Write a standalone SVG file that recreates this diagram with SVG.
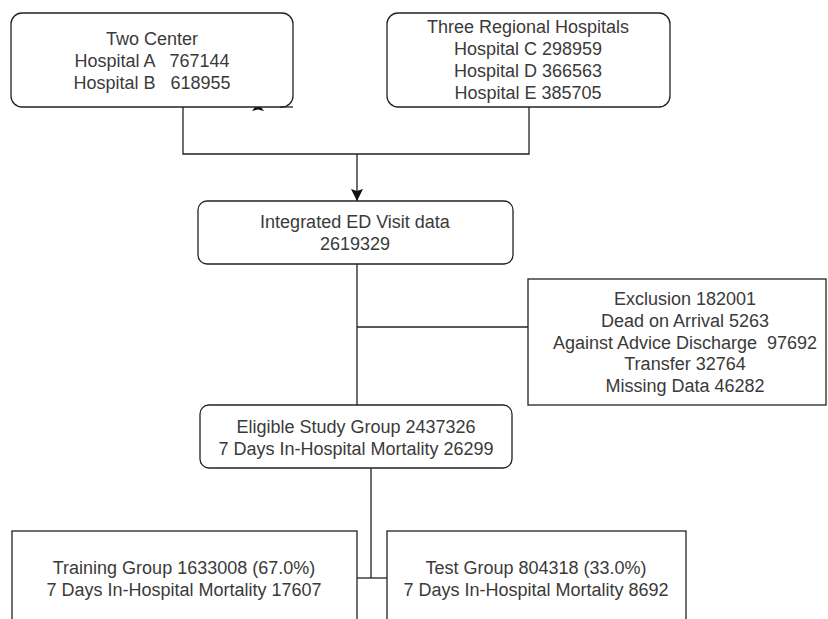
<svg xmlns="http://www.w3.org/2000/svg" width="828" height="619" viewBox="0 0 828 619">
<style>
.box{fill:#fff;stroke:#222;stroke-width:1.3}
.t{font-family:"Liberation Sans",Arial,sans-serif;font-size:18px;fill:#3a3a3a;text-anchor:middle;white-space:pre}
.ln{fill:none;stroke:#222;stroke-width:1.3}
</style>
<defs>
<marker id="arr" markerWidth="13" markerHeight="12" refX="12" refY="6" orient="auto" markerUnits="userSpaceOnUse">
<path d="M0,0 L12,6 L0,12 L2,6 Z" fill="#111"/>
</marker>
</defs>
<rect width="828" height="619" fill="#fff"/>
<g id="connectors">
<path class="ln" d="M183,107 V154 H529 V107"/>
<path class="ln" d="M357,154 V201" marker-end="url(#arr)"/>
<path class="ln" d="M357,264 V405"/>
<path class="ln" d="M357,327 H528"/>
<path class="ln" d="M371,468 V578"/>
<path class="ln" d="M357,578 H387"/>
<path d="M258,103 L264,111 L258,109.5 L252,111 Z" fill="#111"/>
</g>
<g id="two-center">
<rect class="box" x="11" y="13" width="282" height="94" rx="11"/>
<path class="ln" d="M280,107 H293"/>
<text class="t" x="152" y="45">Two Center</text>
<text class="t" x="152" y="67" xml:space="preserve">Hospital A   767144</text>
<text class="t" x="152" y="89" xml:space="preserve">Hospital B   618955</text>
</g>
<g id="three-regional">
<rect class="box" x="387" y="13" width="283" height="94" rx="11"/>
<text class="t" x="528" y="33">Three Regional Hospitals</text>
<text class="t" x="528" y="55">Hospital C 298959</text>
<text class="t" x="528" y="77">Hospital D 366563</text>
<text class="t" x="528" y="99">Hospital E 385705</text>
</g>
<g id="integrated">
<rect class="box" x="198" y="201" width="315" height="63" rx="9"/>
<text class="t" x="355" y="228">Integrated ED Visit data</text>
<text class="t" x="355" y="250">2619329</text>
</g>
<g id="exclusion">
<rect class="box" x="528" y="279" width="298" height="126"/>
<text class="t" x="685" y="305">Exclusion 182001</text>
<text class="t" x="685" y="327">Dead on Arrival 5263</text>
<text class="t" x="685" y="349" xml:space="preserve">Against Advice Discharge  97692</text>
<text class="t" x="685" y="370">Transfer 32764</text>
<text class="t" x="685" y="392">Missing Data 46282</text>
</g>
<g id="eligible">
<rect class="box" x="200" y="405" width="312" height="63" rx="9"/>
<text class="t" x="356" y="433">Eligible Study Group 2437326</text>
<text class="t" x="356" y="455">7 Days In-Hospital Mortality 26299</text>
</g>
<g id="training">
<rect class="box" x="12" y="531" width="345" height="100"/>
<text class="t" x="184" y="574">Training Group 1633008 (67.0%)</text>
<text class="t" x="184" y="596">7 Days In-Hospital Mortality 17607</text>
</g>
<g id="test">
<rect class="box" x="387" y="531" width="299" height="100"/>
<text class="t" x="536" y="574">Test Group 804318 (33.0%)</text>
<text class="t" x="536" y="596">7 Days In-Hospital Mortality 8692</text>
</g>
</svg>
